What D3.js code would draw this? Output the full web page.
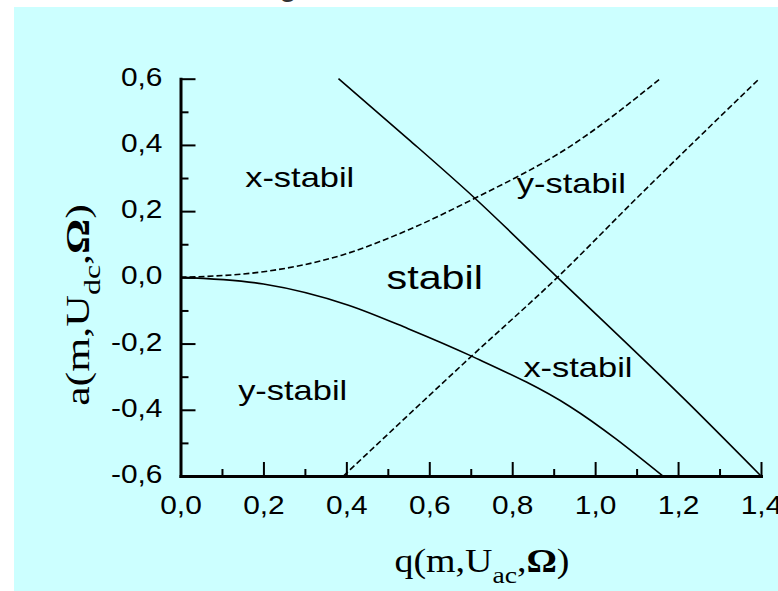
<!DOCTYPE html>
<html lang="de">
<head>
  <meta charset="UTF-8">
  <title>Stabilitätsdiagramm</title>
  <script src="https://d3js.org/d3.v7.min.js"></script>
  <style>
    body { margin: 0; background: #fff; }
    svg { display: block; }
    .axis path.domain { stroke: #000; stroke-width: 3px; stroke-linecap: square; }
    .axis line { stroke: #000; stroke-width: 2px; }
    .axis text { font-family: "Liberation Sans", Arial, sans-serif; font-size: 26px; fill: #000; }
    .curve { fill: none; stroke: #000; stroke-width: 1.6px; }
    .dashed { stroke-dasharray: 6,3; }
    .region { font-family: "Liberation Sans", Arial, sans-serif; fill: #000; }
    .title { font-family: "Liberation Serif", "Times New Roman", serif; font-size: 33px; fill: #000; }
  </style>
</head>
<body>
<svg id="chart" width="778" height="591"></svg>
<script>
  // ticks
  const xTicks = [0, 0.2, 0.4, 0.6, 0.8, 1.0, 1.2, 1.4];
  const xMinor = [0.1, 0.3, 0.5, 0.7, 0.9, 1.1, 1.3];
  const yTicks = [-0.6, -0.4, -0.2, 0, 0.2, 0.4, 0.6];
  const yMinor = [-0.5, -0.3, -0.1, 0.1, 0.3, 0.5];

  // boundary curves, [q, a]
  const lowerSolid = [[0, 0], [0.2, -0.02], [0.405, -0.084], [0.549, -0.155], [0.702, -0.238], [0.939, -0.39], [1.163, -0.6]];
  const upperDashed = [[0, 0], [0.2, 0.017], [0.389, 0.067], [0.549, 0.143], [0.71, 0.239], [0.939, 0.395], [1.157, 0.6]];
  const solidLine = [[0.381, 0.6], [0.55, 0.417], [0.71, 0.239], [0.909, 0], [1.225, -0.38], [1.4, -0.6]];
  const dashedLine = [[0.393, -0.6], [0.702, -0.238], [0.909, 0], [1.10, 0.239], [1.396, 0.6]];

  // region labels
  const labelText = ["x-stabil", "y-stabil", "y-stabil", "x-stabil", "stabil"];
  const labelQ = [0.156, 0.139, 0.811, 0.827, 0.497];
  const labelA = [0.274, -0.371, 0.254, -0.300, -0.036];

  const svg = d3.select("#chart");
  const width = +svg.attr("width");
  const height = +svg.attr("height");
  const margin = { top: 78.7, right: 17, bottom: 115, left: 180.5 };

  svg.append("rect").attr("x", 14).attr("y", 7)
     .attr("width", width - 14).attr("height", height - 7)
     .attr("fill", "#ccffff");

  // cut-off heading above the panel
  svg.append("text").attr("x", 288).attr("y", -4)
     .attr("text-anchor", "middle")
     .style("font", "bold 28px 'Liberation Sans', Arial, sans-serif")
     .style("fill", "#333").text("g");

  const x = d3.scaleLinear().domain([0, 1.4]).range([margin.left, width - margin.right]);
  const y = d3.scaleLinear().domain([-0.6, 0.6]).range([height - margin.bottom, margin.top]);
  const fmt = d => d.toFixed(1).replace(".", ",");

  // minor ticks
  svg.append("g").attr("class", "axis")
     .attr("transform", "translate(0," + y(-0.6) + ")")
     .call(d3.axisBottom(x).tickValues(xMinor).tickSize(-7).tickFormat(""))
     .call(g => g.select(".domain").remove());
  svg.append("g").attr("class", "axis")
     .attr("transform", "translate(" + x(0) + ",0)")
     .call(d3.axisLeft(y).tickValues(yMinor).tickSize(-8).tickFormat(""))
     .call(g => g.select(".domain").remove());

  // major axes
  svg.append("g").attr("class", "axis")
     .attr("transform", "translate(0," + y(-0.6) + ")")
     .call(d3.axisBottom(x).tickValues(xTicks).tickSize(-14).tickSizeOuter(0).tickPadding(20).tickFormat(fmt))
     .call(g => g.selectAll("text").attr("transform", "scale(1.15,1)"));
  svg.append("g").attr("class", "axis")
     .attr("transform", "translate(" + x(0) + ",0)")
     .call(d3.axisLeft(y).tickValues(yTicks).tickSize(-15).tickSizeOuter(0).tickPadding(15.7).tickFormat(fmt))
     .call(g => g.selectAll("text").attr("dy", "0.25em").attr("transform", "scale(1.15,1)"));

  // curves
  const line = d3.line().x(d => x(d[0])).y(d => y(d[1])).curve(d3.curveMonotoneX);
  svg.append("path").datum(lowerSolid).attr("class", "curve").attr("d", line);
  svg.append("path").datum(upperDashed).attr("class", "curve dashed").attr("d", line);
  svg.append("path").datum(solidLine).attr("class", "curve").attr("d", line);
  svg.append("path").datum(dashedLine).attr("class", "curve dashed").attr("d", line);

  // region labels
  labelText.forEach((t, i) => {
    const big = t === "stabil";
    svg.append("g")
       .attr("transform", "translate(" + x(labelQ[i]) + "," + y(labelA[i]) + ")")
       .append("text").attr("class", "region")
       .attr("transform", big ? "scale(1.25,1)" : "scale(1.23,1)")
       .style("font-size", big ? "33px" : "28px")
       .text(t);
  });

  // axis titles
  function title(g, main, sub) {
    const t = g.append("text").attr("class", "title").attr("text-anchor", "middle");
    t.append("tspan").text(main + "(m,U");
    t.append("tspan").style("font-size", "24px").attr("dy", 11).text(sub);
    t.append("tspan").attr("dy", -11).text(",");
    t.append("tspan").style("font-weight", "bold").text("Ω");
    t.append("tspan").text(")");
    return t;
  }
  title(svg.append("g").attr("transform", "translate(482,572)"), "q", "ac")
    .attr("transform", "scale(1.15,1)");
  title(svg.append("g").attr("transform", "translate(89,305) rotate(-90)"), "a", "dc")
    .attr("transform", "scale(1.33,1)");
</script>
</body>
</html>
